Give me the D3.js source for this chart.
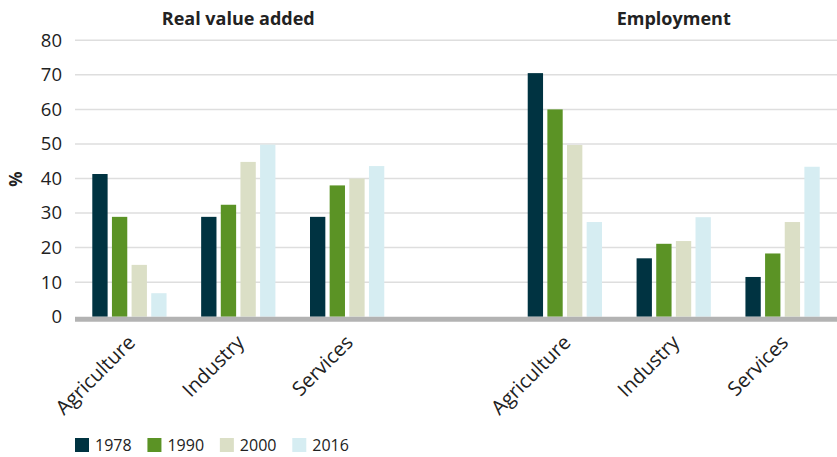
<!DOCTYPE html>
<html>
<head>
<meta charset="utf-8">
<script src="https://cdn.jsdelivr.net/npm/d3@7"></script>
<style>
  html, body { margin: 0; padding: 0; background: #fff; }
  svg { display: block; font-family: "Open Sans", "Noto Sans", sans-serif; }
</style>
</head>
<body>
<svg id="chart" width="837" height="457"></svg>
<script>
// ---- data ----
const panels = ["Real value added", "Employment"];
const sectors = ["Agriculture", "Industry", "Services"];
const years = ["1978", "1990", "2000", "2016"];
const colors = ["#003341", "#5b9325", "#dbdfc6", "#d6edf2"];

// Real value added, % (Agriculture, Industry, Services)
const valueAdded1978 = [41.3, 28.9, 28.9];
const valueAdded1990 = [28.9, 32.4, 38.0];
const valueAdded2000 = [15.0, 44.8, 40.0];
const valueAdded2016 = [6.8, 49.8, 43.6];
// Employment, % (Agriculture, Industry, Services)
const employment1978 = [70.5, 16.9, 11.5];
const employment1990 = [60.0, 21.1, 18.3];
const employment2000 = [49.7, 21.9, 27.4];
const employment2016 = [27.4, 28.8, 43.4];

const yTicks = [0, 10, 20, 30, 40, 50, 60, 70, 80];

// ---- build table ----
const valueAddedSeries = [valueAdded1978, valueAdded1990, valueAdded2000, valueAdded2016];
const employmentSeries = [employment1978, employment1990, employment2000, employment2016];
const slots = [];
sectors.forEach(s => slots.push("va|" + s));
slots.push("gap");
sectors.forEach(s => slots.push("emp|" + s));

const rows = [];
sectors.forEach((s, i) => {
  years.forEach((yr, j) => rows.push({ slot: "va|" + s, year: yr, value: valueAddedSeries[j][i] }));
  years.forEach((yr, j) => rows.push({ slot: "emp|" + s, year: yr, value: employmentSeries[j][i] }));
});

// ---- layout ----
const mLeft = 75, mRight = 837, mTop = 40.3, mBottom = 316.7;
const svg = d3.select("#chart");

const x0 = d3.scaleBand().domain(slots).range([mLeft, mRight]).padding(0);
const x1 = d3.scaleBand().domain(years).range([0, x0.bandwidth()])
  .paddingInner(0.22).paddingOuter(0.88);
const y = d3.scaleLinear().domain([0, 80]).range([mBottom, mTop]);
const color = d3.scaleOrdinal().domain(years).range(colors);

// gridlines
svg.append("g")
  .selectAll("line").data(yTicks.filter(d => d > 0)).join("line")
  .attr("x1", mLeft).attr("x2", mRight)
  .attr("y1", d => y(d)).attr("y2", d => y(d))
  .attr("stroke", "#dedede").attr("stroke-width", 1.5);

// y axis labels
const yAxis = d3.axisLeft(y).tickValues(yTicks).tickSize(0).tickPadding(0);
const yg = svg.append("g").attr("transform", `translate(${mLeft - 13},0)`).call(yAxis);
yg.select(".domain").remove();
yg.selectAll("text").attr("font-size", 18.5).attr("fill", "#222")
  .attr("font-family", "'Open Sans', sans-serif");

// y label
svg.append("text")
  .attr("transform", "translate(22,179) rotate(-90)")
  .attr("text-anchor", "middle")
  .attr("font-size", 17).attr("font-weight", 700).attr("fill", "#222")
  .text("%");

// bars
svg.append("g")
  .selectAll("rect").data(rows).join("rect")
  .attr("x", d => x0(d.slot) + x1(d.year))
  .attr("width", x1.bandwidth())
  .attr("y", d => y(d.value))
  .attr("height", d => y(0) - y(d.value))
  .attr("fill", d => color(d.year));

// baseline
svg.append("line")
  .attr("x1", mLeft).attr("x2", mRight)
  .attr("y1", y(0) + 2.6).attr("y2", y(0) + 2.6)
  .attr("stroke", "#b3b3b3").attr("stroke-width", 5);

// x axis labels
const xAxis = d3.axisBottom(x0).tickSize(0).tickPadding(0)
  .tickFormat(d => d === "gap" ? "" : d.split("|")[1]);
const xg = svg.append("g").attr("transform", `translate(0,${mBottom})`).call(xAxis);
xg.select(".domain").remove();
xg.selectAll("text")
  .attr("font-size", 20).attr("fill", "#222")
  .attr("font-family", "'Open Sans', sans-serif")
  .attr("text-anchor", "end")
  .attr("dy", 0)
  .attr("y", 0)
  .attr("transform", "translate(7,27) rotate(-45)");

// panel titles
panels.forEach((p, i) => {
  const key = (i === 0 ? "va|" : "emp|") + "Industry";
  svg.append("text")
    .attr("x", x0(key) + x0.bandwidth() / 2)
    .attr("y", 25)
    .attr("text-anchor", "middle")
    .attr("font-size", 18).attr("font-weight", 700).attr("fill", "#222")
    .text(p);
});

// legend
const legendX = d3.scalePoint().domain(years).range([75, 292.3]);
const lg = svg.append("g").selectAll("g").data(years).join("g")
  .attr("transform", d => `translate(${legendX(d)},438)`);
lg.append("rect").attr("width", 14).attr("height", 14).attr("fill", d => color(d));
lg.append("text").attr("x", 20).attr("y", 12.5)
  .attr("font-size", 16).attr("fill", "#222")
  .text(d => d);
</script>
</body>
</html>
